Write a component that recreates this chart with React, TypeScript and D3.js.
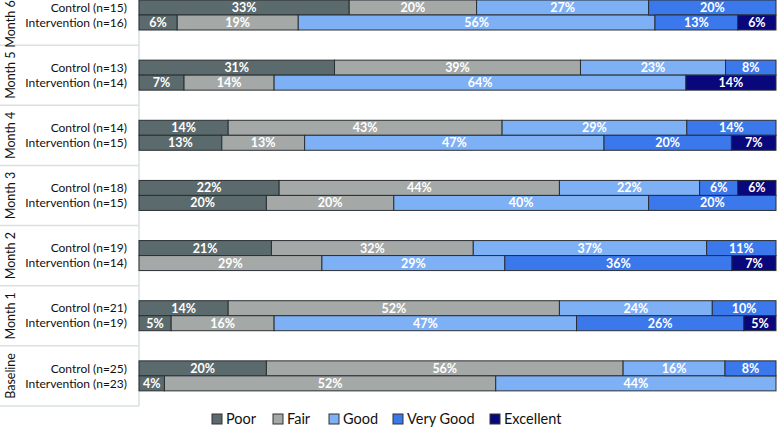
import React from "react";
import * as d3 from "d3";

const groups = ["Month 6", "Month 5", "Month 4", "Month 3", "Month 2", "Month 1", "Baseline"];
const arms = ["Control", "Intervention"];
const categories = ["Poor", "Fair", "Good", "Very Good", "Excellent"];
const colors = ["#5b6a6c", "#a4a9a8", "#7eb0f6", "#3a78ec", "#08087c"];

// rows: group x arm, in order Month 6 Control, Month 6 Intervention, ...
const rowN = [15, 16, 13, 14, 14, 15, 18, 15, 19, 14, 21, 19, 25, 23];
// percentages as printed on the bars
const poor = [33, 6, 31, 7, 14, 13, 22, 20, 21, 0, 14, 5, 20, 4];
const fair = [20, 19, 39, 14, 43, 13, 44, 20, 32, 29, 52, 16, 56, 52];
const good = [27, 56, 23, 64, 29, 47, 22, 40, 37, 29, 24, 47, 16, 44];
const veryGood = [20, 13, 8, 0, 14, 20, 6, 20, 11, 36, 10, 26, 8, 0];
const excellent = [0, 6, 0, 14, 0, 7, 6, 0, 0, 7, 0, 5, 0, 0];

const W = 778;
const H = 427;
const FONT = "Lato, 'Open Sans', sans-serif";

export default function App() {
  const series = [poor, fair, good, veryGood, excellent];
  const rows = rowN.map((n, i) => {
    const r: any = { group: groups[Math.floor(i / 2)], arm: arms[i % 2], n };
    const total = d3.sum(series, (s) => s[i]);
    categories.forEach((c, k) => (r[c] = series[k][i] / total));
    r.pcts = series.map((s) => s[i]);
    return r;
  });
  const stacked = d3.stack<any>().keys(categories)(rows);

  const yGroup = d3.scaleBand().domain(groups).range([-15, 406]).paddingInner(0).paddingOuter(0);
  const bw = yGroup.bandwidth();
  const yArm = d3.scaleBand().domain(arms).range([15, 45]);
  const x = d3.scaleLinear().domain([0, 1]).range([139, 776]);
  const lineColor = "#d9e1e3";

  const legendX = [212, 273, 329, 393, 490];

  return (
    <svg width={W} height={H} style={{ position: "absolute", left: 0, top: 0, background: "#fff" }}>
      <line x1={139} x2={139} y1={0} y2={406} stroke={lineColor} strokeWidth={1.5} />
      {groups.map((g) => (
        <line key={"sep" + g} x1={0} x2={139} y1={(yGroup(g) as number) + bw} y2={(yGroup(g) as number) + bw} stroke={lineColor} strokeWidth={1.5} />
      ))}
      {groups.map((g) => {
        const c = (yGroup(g) as number) + bw / 2;
        const cy = Math.max(c, 24);
        return (
          <text key={"gl" + g} transform={`translate(15,${cy}) rotate(-90)`} textAnchor="middle" fontFamily={FONT} fontSize={12.5} fill="#111">
            {g}
          </text>
        );
      })}
      {rows.map((r, i) => {
        const y = (yGroup(r.group) as number) + (yArm(r.arm) as number) + yArm.bandwidth() / 2;
        return (
          <text key={"rl" + i} x={127} y={y} dy="0.35em" textAnchor="end" fontFamily={FONT} fontSize={12} fill="#111">
            {`${r.arm} (n=${r.n})`}
          </text>
        );
      })}
      {stacked.map((s, k) => (
        <g key={"s" + k}>
          {s.map((d, i) => {
            const r = rows[i];
            if (r.pcts[k] === 0) return null;
            const y0 = (yGroup(r.group) as number) + (yArm(r.arm) as number);
            const x0 = x(d[0]);
            const x1 = x(d[1]);
            return (
              <g key={"b" + i}>
                <rect x={x0} y={y0} width={x1 - x0} height={yArm.bandwidth()} fill={colors[k]} stroke="#2a2f33" strokeWidth={1} />
                <text x={(x0 + x1) / 2} y={y0 + yArm.bandwidth() / 2} dy="0.36em" textAnchor="middle" fontFamily={FONT} fontWeight="bold" fontSize={12.5} fill="#fff">
                  {r.pcts[k] + "%"}
                </text>
              </g>
            );
          })}
        </g>
      ))}
      {categories.map((c, k) => (
        <g key={"lg" + c}>
          <rect x={legendX[k]} y={414} width={10} height={10} fill={colors[k]} stroke="#333" strokeWidth={1} />
          <text x={legendX[k] + 14} y={424} fontFamily={FONT} fontSize={14.5} fill="#111">
            {c}
          </text>
        </g>
      ))}
    </svg>
  );
}
